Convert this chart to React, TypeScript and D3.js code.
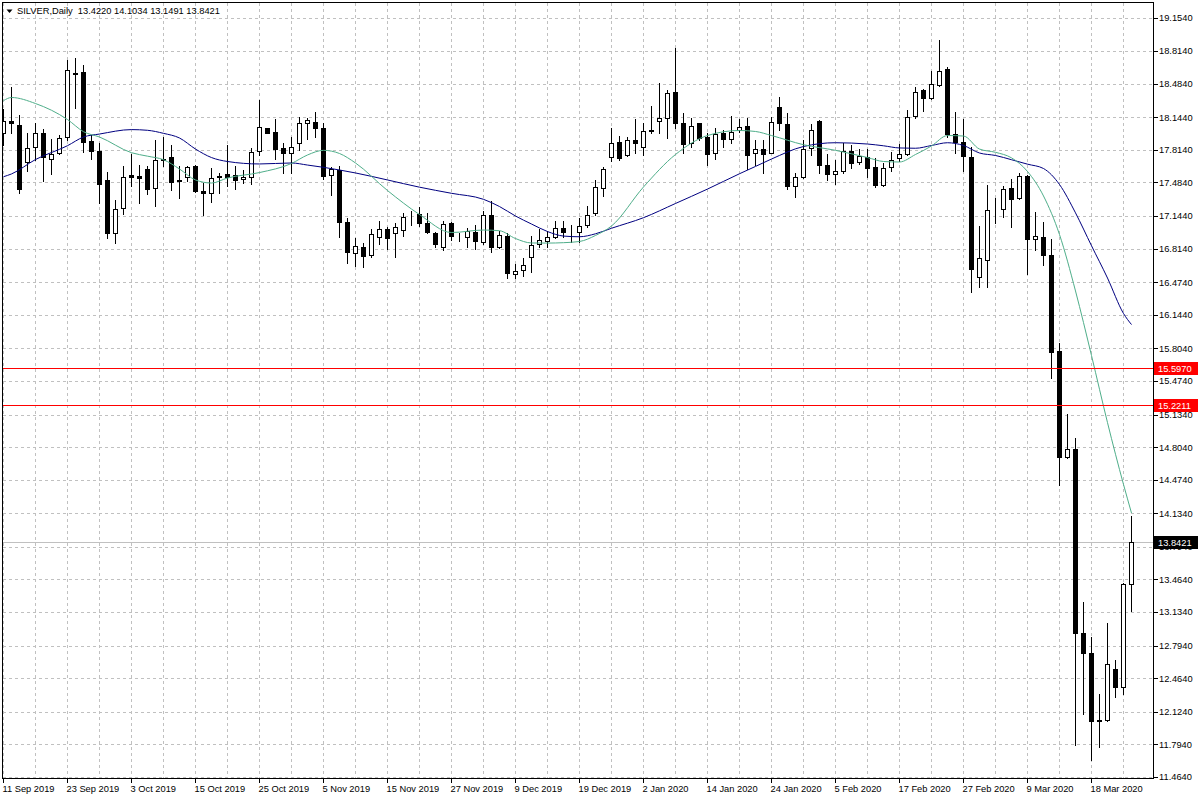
import React from "react";
import * as d3 from "d3";

// ---- data ----
const opens = [17.981,18.106,18.065,17.694,17.840,17.981,17.721,17.779,17.947,18.592,18.599,17.903,17.805,17.509,16.975,17.222,17.559,17.549,17.623,17.425,17.714,17.738,17.509,17.542,17.650,17.397,17.374,17.542,17.566,17.556,17.516,17.536,17.802,18.032,17.995,17.830,17.779,17.880,18.083,18.096,18.038,17.556,17.610,17.086,16.772,16.833,16.746,16.934,17.012,16.975,17.002,17.131,17.164,17.076,16.969,16.833,17.076,16.934,16.928,16.985,16.881,17.151,16.833,16.942,16.557,16.594,16.726,16.860,16.894,16.931,17.020,16.995,16.985,17.050,17.177,17.425,17.744,17.890,17.762,17.914,17.846,18.005,18.109,18.133,18.400,18.083,17.880,18.083,17.947,17.779,17.981,17.921,18.015,18.055,17.779,17.819,17.785,18.245,18.073,17.451,17.542,17.830,18.109,17.660,17.566,17.603,17.802,17.694,17.744,17.643,17.458,17.637,17.728,17.772,18.157,18.420,18.342,18.468,18.633,17.971,17.896,17.744,16.529,16.699,17.205,17.212,17.425,17.323,17.549,16.908,16.928,16.749,15.777,14.701,14.782,12.925,12.722,12.033,12.040,12.554,12.372,13.422];
const highs = [18.224,18.453,18.167,17.988,18.083,18.022,17.921,17.964,18.724,18.744,18.673,17.964,17.886,17.590,17.306,17.650,17.769,17.657,17.650,17.914,17.941,17.863,17.650,17.650,17.660,17.481,17.627,17.582,17.860,17.650,17.610,17.830,18.319,18.040,18.123,17.880,17.941,18.150,18.133,18.200,18.083,17.637,17.650,17.121,16.918,16.874,17.009,17.096,17.036,17.070,17.177,17.192,17.232,17.171,16.985,17.093,17.086,16.975,17.020,17.053,17.198,17.299,16.995,16.969,16.658,16.716,16.942,17.009,16.995,17.096,17.096,17.053,17.121,17.245,17.509,17.643,18.032,17.954,17.947,18.123,18.083,18.258,18.494,18.420,18.842,18.184,18.133,18.090,17.981,18.032,18.015,18.157,18.123,18.133,17.914,17.914,18.144,18.352,18.184,17.576,17.914,18.076,18.115,17.772,17.711,17.880,17.863,17.822,17.819,17.728,17.678,17.795,17.873,18.217,18.447,18.427,18.612,18.926,18.650,18.200,18.123,17.840,17.043,17.458,17.323,17.448,17.516,17.582,17.560,17.188,17.086,16.908,15.861,15.139,14.893,13.238,12.878,12.304,13.026,12.648,13.431,14.1034];
const lows = [17.863,17.988,17.380,17.600,17.711,17.501,17.569,17.772,17.914,18.235,17.795,17.718,17.273,16.918,16.874,17.164,17.448,17.279,17.367,17.248,17.650,17.407,17.323,17.501,17.390,17.151,17.289,17.380,17.448,17.414,17.481,17.468,17.762,17.981,17.718,17.582,17.576,17.812,17.921,17.947,17.516,17.357,16.934,16.671,16.638,16.631,16.732,16.860,16.807,16.726,16.945,17.053,17.043,16.969,16.833,16.800,16.901,16.894,16.833,16.807,16.860,16.783,16.817,16.513,16.513,16.537,16.580,16.833,16.827,16.918,16.934,16.884,16.884,17.036,17.154,17.347,17.704,17.711,17.752,17.785,17.762,17.981,17.988,17.931,18.032,17.779,17.840,17.914,17.660,17.718,17.846,17.886,17.998,17.617,17.660,17.582,17.779,18.015,17.414,17.333,17.526,17.762,17.582,17.509,17.468,17.576,17.627,17.671,17.542,17.441,17.448,17.603,17.704,17.762,18.133,18.210,18.326,18.460,17.947,17.779,17.603,16.377,16.428,16.428,17.070,17.131,17.030,17.313,16.557,16.800,16.648,15.507,14.420,14.695,11.787,12.101,11.635,11.764,12.033,12.270,12.304,13.1491];
const closes = [18.106,18.083,17.414,17.830,17.988,17.738,17.769,17.931,18.622,18.584,17.890,17.802,17.465,16.975,17.212,17.536,17.536,17.532,17.414,17.711,17.718,17.491,17.499,17.637,17.400,17.380,17.526,17.546,17.536,17.509,17.542,17.789,18.048,17.988,17.819,17.779,17.840,18.083,18.116,18.032,17.549,17.623,17.086,16.783,16.840,16.742,16.962,17.009,16.924,17.036,17.131,17.134,17.076,16.985,16.860,17.060,16.942,16.931,16.995,16.894,17.151,16.833,16.952,16.564,16.584,16.645,16.850,16.904,16.931,17.020,16.985,16.997,17.043,17.151,17.435,17.617,17.880,17.728,17.914,17.880,18.005,18.010,18.133,18.387,18.083,17.873,18.058,17.931,17.772,17.974,17.921,17.998,18.042,17.762,17.819,17.772,18.093,18.083,17.448,17.536,17.819,18.015,17.660,17.569,17.600,17.805,17.678,17.752,17.627,17.458,17.627,17.711,17.772,18.150,18.403,18.342,18.481,18.609,17.974,17.896,17.752,16.604,16.716,17.205,17.202,17.414,17.313,17.549,16.908,16.942,16.749,15.770,14.701,14.782,12.925,12.722,12.033,12.040,12.605,12.372,13.422,13.8421];

// moving averages, read at these bar indices
const maIndex = [0,1,4,8,10,12,16,18,20,22,24,26,28,32,36,38,40,42,44,48,52,56,60,62,64,66,68,70,72,74,76,80,84,88,92,94,96,100,104,108,110,112,114,116,118,120,122,124,126,128,130,132,134,136,138,140,141];
const fastMA = [18.312,18.344,18.283,18.121,17.998,17.944,17.785,17.750,17.714,17.620,17.509,17.478,17.529,17.584,17.676,17.762,17.809,17.777,17.681,17.402,17.159,16.977,17.002,16.995,16.916,16.871,16.870,16.874,16.886,16.947,17.043,17.438,17.767,17.959,18.010,18.000,17.959,17.866,17.809,17.736,17.696,17.691,17.767,17.853,17.959,17.954,17.822,17.789,17.733,17.595,17.347,16.956,16.385,15.731,15.052,14.426,14.137];
const slowMA = [17.542,17.570,17.716,17.856,17.944,17.974,18.019,18.012,17.981,17.934,17.822,17.736,17.696,17.671,17.681,17.660,17.637,17.610,17.580,17.509,17.436,17.374,17.313,17.240,17.144,17.063,16.987,16.941,16.934,16.964,17.020,17.127,17.271,17.417,17.572,17.646,17.721,17.848,17.886,17.873,17.855,17.833,17.830,17.858,17.886,17.858,17.782,17.757,17.714,17.669,17.625,17.463,17.176,16.843,16.516,16.157,16.045];

const priceTicks = [19.154,18.814,18.484,18.144,17.814,17.484,17.144,16.814,16.474,16.144,15.804,15.474,15.134,14.804,14.474,14.134,13.794,13.464,13.134,12.794,12.464,12.124,11.794,11.464];
const dateLabels = ["11 Sep 2019","23 Sep 2019","3 Oct 2019","15 Oct 2019","25 Oct 2019","5 Nov 2019","15 Nov 2019","27 Nov 2019","9 Dec 2019","19 Dec 2019","2 Jan 2020","14 Jan 2020","24 Jan 2020","5 Feb 2020","17 Feb 2020","27 Feb 2020","9 Mar 2020","18 Mar 2020"];
const dateLabelIndex = [0,8,16,24,32,40,48,56,64,72,80,88,96,104,112,120,128,136];
const levelLines = [15.597, 15.2211];
const levelLabels = ["15.5970", "15.2211"];
const lastPrice = 13.8421;
const header = "SILVER,Daily  13.4220 14.1034 13.1491 13.8421";

const FONT = "'Liberation Sans', Arial, sans-serif";

export default function App() {
  const W = 1200, H = 800;
  const left = 2.5, top = 2.5, right = 1153.5, bottom = 778.5;
  const n = closes.length;
  const x = d3.scaleLinear().domain([0, n - 1]).range([3.5, 3.5 + 8 * (n - 1)]);
  const y = d3.scaleLinear().domain([11.464, 19.154]).range([777, 17.5]);
  const py = (v: number) => Math.round(y(v)) + 0.5;
  const fy = (v: number) => Math.floor(y(v)) + 0.5;

  const line = d3.line<number>()
    .x((_, k) => x(maIndex[k]))
    .y((v) => y(v))
    .curve(d3.curveMonotoneX);

  const vGrid: number[] = [];
  for (let i = 0; i < n; i += 4) vGrid.push(i);

  return (
    <svg width={W} height={H} style={{ position: "absolute", left: 0, top: 0, background: "#fff" }}>
      <defs>
        <clipPath id="plot">
          <rect x={3} y={3} width={1150} height={775} />
        </clipPath>
      </defs>
      <rect x={0} y={0} width={W} height={H} fill="#fff" />
      {/* grid */}
      <g stroke="#c0c0c0" strokeDasharray="3,3" strokeWidth={1} shapeRendering="crispEdges">
        {priceTicks.map((v) => (
          <line key={"h" + v} x1={left} x2={right} y1={py(v)} y2={py(v)} />
        ))}
        {vGrid.map((i) => (
          <line key={"v" + i} x1={x(i)} x2={x(i)} y1={top} y2={bottom} />
        ))}
      </g>
      <g clipPath="url(#plot)">
        {/* last price line */}
        <line x1={left} x2={right} y1={fy(lastPrice)} y2={fy(lastPrice)} stroke="#c0c0c0" strokeWidth={1} shapeRendering="crispEdges" />
        {/* candles */}
        {closes.map((c, i) => {
          const o = opens[i];
          const cx = x(i);
          const yTop = Math.round(y(Math.max(o, c)));
          const yBot = Math.round(y(Math.min(o, c)));
          const bull = c >= o;
          return (
            <g key={i} shapeRendering="crispEdges">
              <line x1={cx} x2={cx} y1={Math.round(y(highs[i]))} y2={Math.round(y(lows[i])) + 1} stroke="#000" strokeWidth={1} />
              <rect x={cx - 2} y={yTop + 0.5} width={4} height={Math.max(0, yBot - yTop)} fill={bull ? "#fff" : "#000"} stroke="#000" strokeWidth={1} />
            </g>
          );
        })}
        {/* moving averages */}
        <path d={line(slowMA) || ""} fill="none" stroke="#000080" strokeWidth={1} />
        <path d={line(fastMA) || ""} fill="none" stroke="#4fae8a" strokeWidth={1} />
      </g>
      {/* level lines */}
      {levelLines.map((v) => (
        <line key={"l" + v} x1={3} x2={1153} y1={fy(v)} y2={fy(v)} stroke="#ff0000" strokeWidth={1} shapeRendering="crispEdges" />
      ))}
      {/* frame */}
      <rect x={left} y={top} width={right - left} height={bottom - top} fill="none" stroke="#000" strokeWidth={1} shapeRendering="crispEdges" />
      {/* price axis */}
      <g fontFamily={FONT} fontSize={9.3} fill="#000">
        {priceTicks.map((v) => (
          <g key={"t" + v}>
            <line x1={right} x2={right + 4} y1={py(v)} y2={py(v)} stroke="#000" shapeRendering="crispEdges" />
            <text x={1159} y={y(v) + 3.4}>{v.toFixed(4)}</text>
          </g>
        ))}
      </g>
      {/* level labels */}
      {levelLines.map((v, k) => (
        <g key={"ll" + v} fontFamily={FONT} fontSize={9.3}>
          <rect x={1154} y={fy(v) - 6.5} width={44} height={13} fill="#ff0000" />
          <text x={1158} y={fy(v) + 3.4} fill="#fff">{levelLabels[k]}</text>
        </g>
      ))}
      <g fontFamily={FONT} fontSize={9.3}>
        <rect x={1154} y={fy(lastPrice) - 6.5} width={44} height={13} fill="#000" />
        <text x={1158} y={fy(lastPrice) + 3.4} fill="#fff">{lastPrice.toFixed(4)}</text>
      </g>
      {/* date axis */}
      <g fontFamily={FONT} fontSize={9.3} fill="#000">
        {dateLabels.map((d, k) => {
          const xx = x(dateLabelIndex[k]);
          return (
            <g key={d}>
              <line x1={xx} x2={xx} y1={bottom} y2={bottom + 4} stroke="#000" shapeRendering="crispEdges" />
              <text x={xx - 1} y={792}>{d}</text>
            </g>
          );
        })}
      </g>
      {/* header */}
      <path d="M6.5,9.5 L12.5,9.5 L9.5,13 Z" fill="#000" />
      <text x={17} y={14} fontFamily={FONT} fontSize={9.3} fill="#000" style={{ whiteSpace: "pre" }}>{header}</text>
    </svg>
  );
}
